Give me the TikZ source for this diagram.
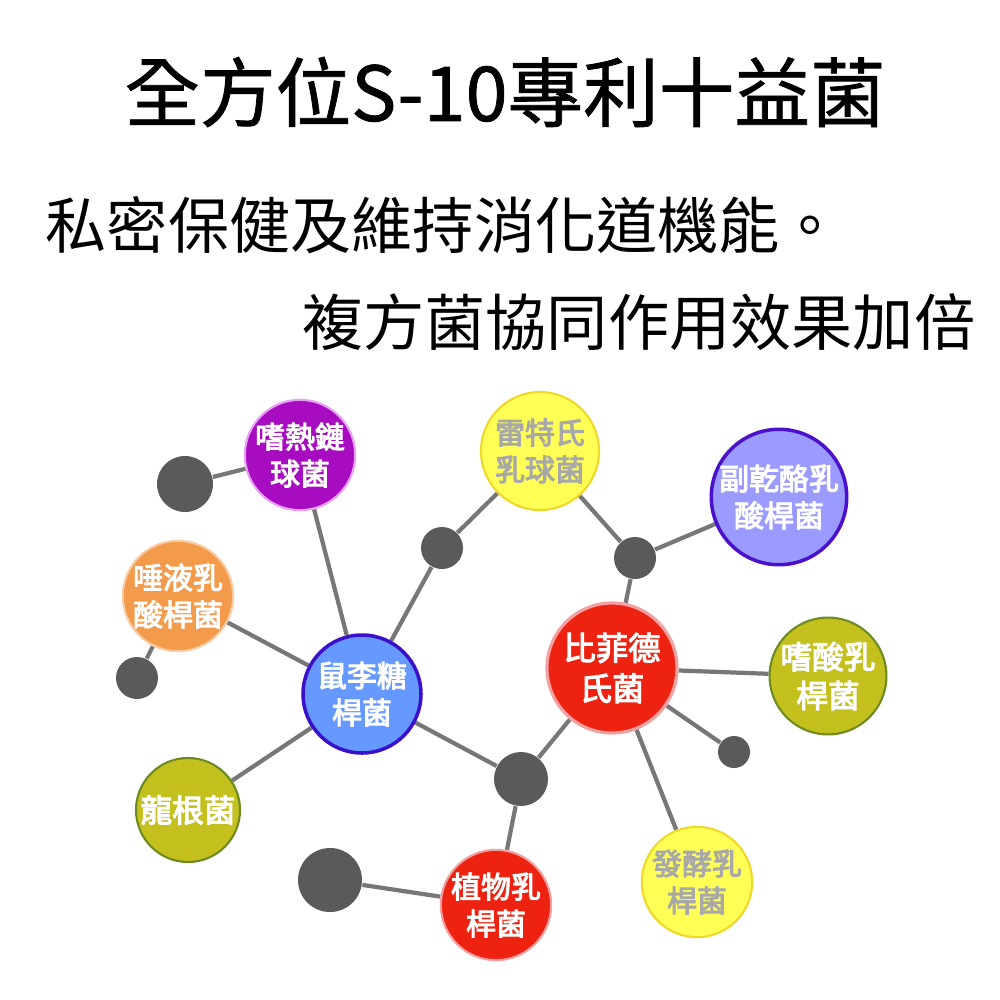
\documentclass[tikz,border=0pt]{standalone}
\usepackage{fontspec}
\newfontfamily\cjk{Noto Sans CJK TC}
\newfontfamily\cjkt{Noto Sans CJK TC}[FakeBold=1]
\newfontfamily\cjkb{Noto Sans CJK TC}[FakeBold=3.5]
\usetikzlibrary{backgrounds}
\definecolor{lnc}{HTML}{777777}
\definecolor{dotc}{HTML}{5A5A5A}
\definecolor{purf}{HTML}{A80CC0}\definecolor{purb}{HTML}{E8A0F5}
\definecolor{orf}{HTML}{F39A4B}\definecolor{orb}{HTML}{F9CBA2}
\definecolor{blf}{HTML}{6699FF}\definecolor{blb}{HTML}{3A10CC}
\definecolor{olf}{HTML}{C4C01E}\definecolor{olb}{HTML}{6F8A1E}
\definecolor{rdf}{HTML}{EE2211}\definecolor{rdb}{HTML}{F5A0A0}
\definecolor{ylf}{HTML}{FFFF55}\definecolor{ylb}{HTML}{F0D828}
\definecolor{lvf}{HTML}{9B9BFF}\definecolor{lvb}{HTML}{4A10CC}
\definecolor{ytx}{HTML}{A8A8A8}
\tikzset{
  bac/.style={circle,inner sep=0pt,align=center,font=\cjkb\fontsize{8.5}{10.5}\selectfont,text=white,line width=0.6pt},
  dotn/.style={circle,fill=dotc,inner sep=0pt},
  lnk/.style={draw=lnc,line width=1.2pt}
}
\begin{document}
\begin{tikzpicture}[x=0.01cm,y=-0.01cm]
\useasboundingbox (0,0) rectangle (1000,1000);
% titles
\node[font=\cjkt\fontsize{21.5}{24}\selectfont,inner sep=0pt] (title) at (505,92) {全方位S-10專利十益菌};
\node[font=\cjk\fontsize{17.4}{20}\selectfont,inner sep=0pt,anchor=west] (sub1) at (45,225) {私密保健及維持消化道機能。};
\node[font=\cjk\fontsize{17.4}{20}\selectfont,inner sep=0pt,anchor=east] (sub2) at (976,322) {複方菌協同作用效果加倍};
% bacteria nodes
\node[bac,fill=purf,draw=purb,minimum size=104*0.01cm] (pur) at (300,455) {嗜熱鏈\\球菌};
\node[bac,fill=orf,draw=orb,minimum size=110*0.01cm] (ora) at (178,596) {唾液乳\\酸桿菌};
\node[bac,fill=blf,draw=blb,line width=1pt,minimum size=118*0.01cm] (blu) at (362,694) {鼠李糖\\桿菌};
\node[bac,fill=olf,draw=olb,minimum size=104*0.01cm,font=\cjkb\fontsize{9}{11}\selectfont] (oll) at (188,810) {龍根菌};
\node[bac,fill=rdf,draw=rdb,minimum size=106*0.01cm] (pla) at (496,905) {植物乳\\桿菌};
\node[bac,fill=rdf,draw=rdb,line width=0.9pt,minimum size=130*0.01cm,font=\cjkb\fontsize{9.2}{11.5}\selectfont] (bif) at (612,668) {比菲德\\氏菌};
\node[bac,fill=ylf,draw=ylb,minimum size=106*0.01cm,text=ytx] (fer) at (697,882) {發酵乳\\桿菌};
\node[bac,fill=olf,draw=olb,minimum size=108*0.01cm,font=\cjkb\fontsize{9}{11}\selectfont] (aci) at (828,676) {嗜酸乳\\桿菌};
\node[bac,fill=lvf,draw=lvb,line width=1pt,minimum size=128*0.01cm] (par) at (779,497) {副乾酪乳\\酸桿菌};
\node[bac,fill=ylf,draw=ylb,minimum size=118*0.01cm,text=ytx] (lac) at (540,451) {雷特氏\\乳球菌};
% gray dots
\node[dotn,minimum size=56*0.01cm] (g1) at (185,484) {};
\node[dotn,minimum size=42*0.01cm] (g2) at (137,678) {};
\node[dotn,minimum size=42*0.01cm] (g3) at (442,548) {};
\node[dotn,minimum size=42*0.01cm] (g4) at (635,558) {};
\node[dotn,minimum size=54*0.01cm] (g5) at (521,779) {};
\node[dotn,minimum size=64*0.01cm] (g6) at (330,880) {};
\node[dotn,minimum size=32*0.01cm] (g7) at (734,752) {};
% links
\begin{scope}[on background layer]
\fill[white] (0,0) rectangle (1000,1000);
\draw[lnk] (pur) -- (g1);
\draw[lnk] (pur) -- (blu);
\draw[lnk] (ora) -- (blu);
\draw[lnk] (ora) -- (g2);
\draw[lnk] (blu) -- (g3);
\draw[lnk] (g3) -- (lac);
\draw[lnk] (lac) -- (g4);
\draw[lnk] (g4) -- (par);
\draw[lnk] (g4) -- (bif);
\draw[lnk] (bif) -- (aci);
\draw[lnk] (bif) -- (g7);
\draw[lnk] (bif) -- (fer);
\draw[lnk] (bif) -- (g5);
\draw[lnk] (blu) -- (g5);
\draw[lnk] (blu) -- (oll);
\draw[lnk] (g5) -- (pla);
\draw[lnk] (pla) -- (g6);
\end{scope}
\end{tikzpicture}
\end{document}
